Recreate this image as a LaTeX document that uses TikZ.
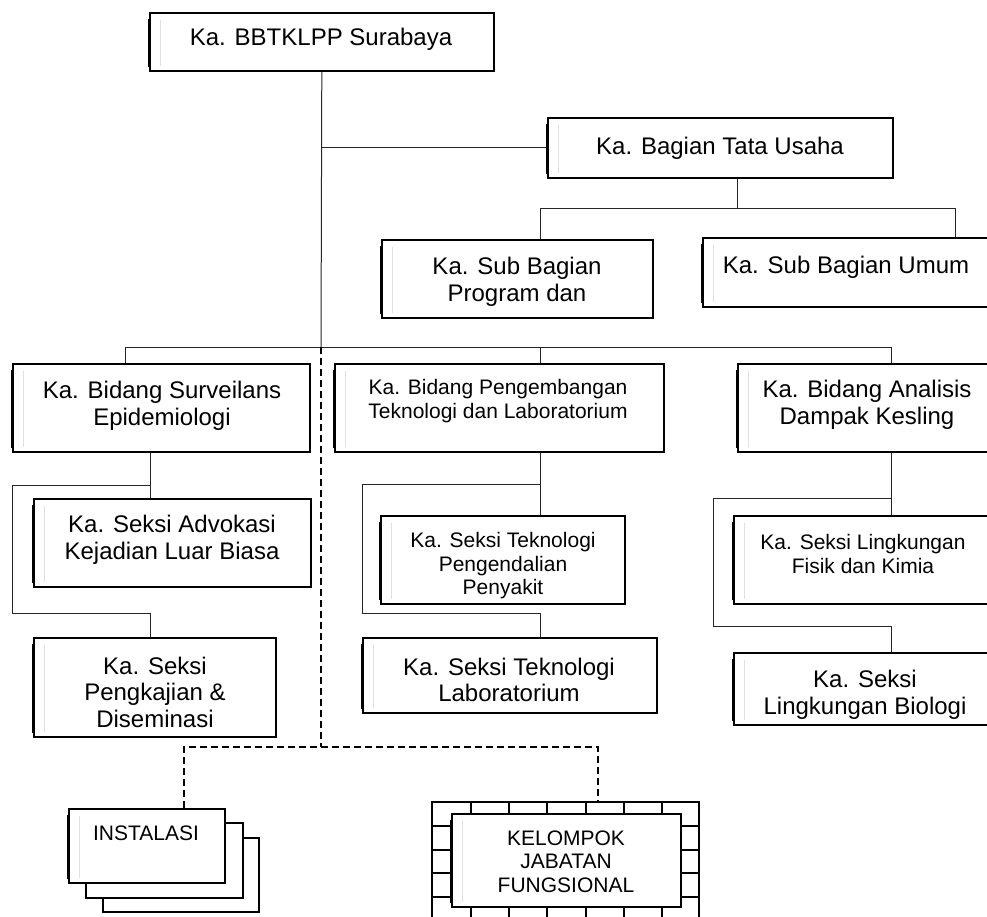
\documentclass[tikz,border=0pt]{standalone}
\usepackage{fontspec}
\setmainfont{Liberation Sans}
\begin{document}
\begin{tikzpicture}[x=1pt,y=-1pt,
  box/.style={draw=black, line width=1.6pt, fill=white, rectangle, inner sep=0pt, anchor=north west},
  big/.style={align=center, font=\fontsize{24}{26.5}\selectfont, inner sep=0pt},
  small/.style={align=center, font=\fontsize{21}{23.5}\selectfont, inner sep=0pt},
  conn/.style={draw=black!85, line width=1pt},
  dashline/.style={draw=black, line width=1.3pt, dash pattern=on 7pt off 4pt},
  brick/.style={draw=black, line width=1.3pt},
  leftbar/.style={draw=black, line width=3pt},
  faint/.style={draw=black!12, line width=0.8pt}]
\useasboundingbox (0,0) rectangle (987,916);
\clip (0,0) rectangle (987,916);

% ---------- coordinates of junctions ----------
\coordinate (busM) at (321,347);
\coordinate (busL) at (125,347);
\coordinate (busR) at (891,347);
\coordinate (busC) at (540,347);
\coordinate (sbL) at (540,208);
\coordinate (sbR) at (955,208);
\coordinate (sbS) at (737,208);
\coordinate (cA) at (150,485);  \coordinate (cA2) at (12,485);
\coordinate (cA3) at (12,613);  \coordinate (cA4) at (150,613);
\coordinate (cB) at (540,484);  \coordinate (cB2) at (362,484);
\coordinate (cB3) at (362,613); \coordinate (cB4) at (540,613);
\coordinate (cC) at (891,498);  \coordinate (cC2) at (713,498);
\coordinate (cC3) at (713,626); \coordinate (cC4) at (891,626);
\coordinate (dM) at (321,747);
\coordinate (dL) at (184,747);
\coordinate (dR) at (598,747);
\coordinate (kelTop) at (598,802);

% ---------- boxes ----------
\node[box, minimum width=344pt, minimum height=58pt] (top) at (149,12) {};
\node[box, minimum width=345pt, minimum height=60pt] (tu) at (547,117) {};
\node[box, minimum width=271pt, minimum height=78pt] (prog) at (381,239) {};
\node[box, minimum width=300pt, minimum height=69pt] (umum) at (702,237) {};
\node[box, minimum width=297pt, minimum height=88pt] (bidA) at (12,363) {};
\node[box, minimum width=277pt, minimum height=88pt] (advo) at (33,498) {};
\node[box, minimum width=242pt, minimum height=99pt] (kaji) at (33,637) {};
\node[box, minimum width=329pt, minimum height=88pt] (bidB) at (334,363) {};
\node[box, minimum width=244pt, minimum height=88pt] (peng) at (380,515) {};
\node[box, minimum width=294pt, minimum height=75pt] (lab) at (362,637) {};
\node[box, minimum width=265pt, minimum height=88pt] (bidC) at (737,363) {};
\node[box, minimum width=269pt, minimum height=88pt] (fisik) at (733,515) {};
\node[box, minimum width=269pt, minimum height=72pt] (bio) at (733,652) {};

% ---------- connectors ----------
\draw[conn] (top.south) -- (busM);
\draw[conn] (top.south |- tu.west) -- (tu.west);
\draw[conn] (sbS |- tu.south) -- (sbS);
\draw[conn] (prog.north -| sbL) -- (sbL) -- (sbR) -- (sbR |- umum.north);
\draw[conn] (bidA.north -| busL) -- (busL) -- (busR) -- (bidC.north -| busR);
\draw[conn] (busC) -- (bidB.north -| busC);
\draw[conn] (bidA.south -| cA) -- (advo.north -| cA);
\draw[conn] (cA) -- (cA2) -- (cA3) -- (cA4) -- (kaji.north -| cA4);
\draw[conn] (bidB.south -| cB) -- (peng.north -| cB);
\draw[conn] (cB) -- (cB2) -- (cB3) -- (cB4) -- (lab.north -| cB4);
\draw[conn] (bidC.south -| cC) -- (fisik.north -| cC);
\draw[conn] (cC) -- (cC2) -- (cC3) -- (cC4) -- (bio.north -| cC4);

% ---------- instalasi stack ----------
\node[box, minimum width=156pt, minimum height=74pt] (inst3) at (102,837) {};
\node[box, minimum width=157pt, minimum height=75pt] (inst2) at (85,822) {};
\node[box, minimum width=156pt, minimum height=74pt] (inst) at (68,808) {};

% ---------- kelompok frame ----------
\draw[brick] (432,930) -- (432,802) -- (699,802) -- (699,930);
\foreach \x in {471,509,547,586,624,662} {
  \draw[brick] (\x,802) -- (\x,813);
  \draw[brick] (\x,906) -- (\x,930);
}
\foreach \y in {826,850,873,897} {
  \draw[brick] (432,\y) -- (451,\y);
  \draw[brick] (680,\y) -- (699,\y);
}
\node[box, minimum width=229pt, minimum height=93pt] (kel) at (451,813) {};

% ---------- dashed lines ----------
\draw[dashline] (busM) -- (dM);
\draw[dashline] (inst.north -| dL) -- (dL) -- (dR) -- (kelTop);

% ---------- left bars ----------
\foreach \n in {top,tu,prog,umum,bidA,advo,kaji,bidB,peng,lab,bidC,fisik,bio,inst,kel} {
  \draw[leftbar] ([xshift=0.8pt,yshift=-7pt]\n.north west) -- ([xshift=0.8pt,yshift=5pt]\n.south west);
  \draw[faint] ([xshift=11pt,yshift=-8pt]\n.north west) -- ([xshift=11pt,yshift=6pt]\n.south west);
}

% ---------- texts ----------
\node[big] (topT) at (321,39) {Ka. BBTKLPP Surabaya};
\node[big] (tuT) at (720,148) {Ka. Bagian Tata Usaha};
\node[big] (progT) at (517,282) {Ka. Sub Bagian\\Program dan};
\node[big] (umumT) at (846,267) {Ka. Sub Bagian Umum};
\node[big] (bidAT) at (162,406) {Ka. Bidang Surveilans\\Epidemiologi};
\node[big] (advoT) at (172,540) {Ka. Seksi Advokasi\\Kejadian Luar Biasa};
\node[big] (kajiT) at (155,692) {Ka. Seksi\\Pengkajian \&\\Diseminasi};
\node[small] (bidBT) at (498,401) {Ka. Bidang Pengembangan\\Teknologi dan Laboratorium};
\node[small] (pengT) at (503,566) {Ka. Seksi Teknologi\\Pengendalian\\Penyakit};
\node[big] (labT) at (509,680) {Ka. Seksi Teknologi\\Laboratorium};
\node[big] (bidCT) at (867,405) {Ka. Bidang Analisis\\Dampak Kesling};
\node[small] (fisikT) at (863,554) {Ka. Seksi Lingkungan\\Fisik dan Kimia};
\node[big] (bioT) at (865,695) {Ka. Seksi\\Lingkungan Biologi};
\node[small] (instT) at (146,833) {INSTALASI};
\node[small] (kelT) at (566,861.5) {KELOMPOK\\JABATAN\\FUNGSIONAL};
\end{tikzpicture}
\end{document}
